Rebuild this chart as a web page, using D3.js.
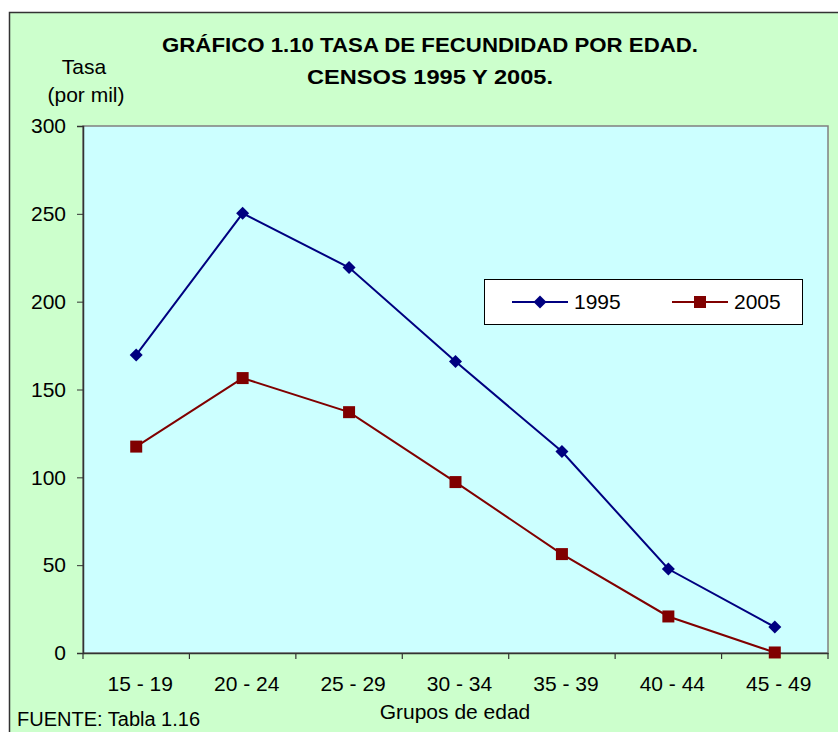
<!DOCTYPE html>
<html><head><meta charset="utf-8">
<script src="https://cdn.jsdelivr.net/npm/d3@7"></script>
<style>body{margin:0;background:#fff}svg{display:block}text{font-family:"Liberation Sans",Arial,sans-serif;fill:#000}</style>
</head><body><svg id="c" width="838" height="732"></svg>
<script>
const categories = ["15 - 19","20 - 24","25 - 29","30 - 34","35 - 39","40 - 44","45 - 49"];
const values1995 = [169.7, 250.3, 219.4, 165.9, 114.7, 47.8, 14.8];
const values2005 = [117.5, 156.5, 137.1, 97.3, 56.3, 20.8, 0.3];
const yTicks = [0, 50, 100, 150, 200, 250, 300];
const seriesNames = ["1995", "2005"];

const svg = d3.select("#c");
const W = 838, H = 732;
const m = {left: 83, right: 828, top: 126, bottom: 653};
const FF = '"Liberation Sans",Arial,sans-serif';

svg.append("rect").attr("x", 9.5).attr("y", 12.5).attr("width", W).attr("height", H)
  .attr("fill", "#CCFFCC").attr("stroke", "#333").attr("stroke-width", 1.5);

const x = d3.scaleBand().domain(categories).range([m.left, m.right]);
const y = d3.scaleLinear().domain([0, 300]).range([m.bottom, m.top]);

svg.append("rect").attr("x", m.left).attr("y", m.top)
  .attr("width", m.right - m.left).attr("height", m.bottom - m.top)
  .attr("fill", "#CCFFFF").attr("stroke", "#808080").attr("stroke-width", 1.5);

// y axis
const ya = svg.append("g").attr("transform", `translate(${m.left},0)`)
  .call(d3.axisLeft(y).tickValues(yTicks).tickSize(6).tickPadding(11));
ya.select(".domain").attr("stroke", "#333").attr("stroke-width", 1.5);
ya.selectAll(".tick line").attr("stroke", "#333");
ya.selectAll("text").attr("font-size", 21).attr("font-family", FF).attr("fill", "#000");

// x axis
const xa = svg.append("g").attr("transform", `translate(0,${m.bottom})`)
  .call(d3.axisBottom(x).tickSize(0).tickPadding(23));
xa.select(".domain").attr("stroke", "#333").attr("stroke-width", 1.5);
xa.selectAll("text").attr("font-size", 21).attr("dx", 4).attr("font-family", FF).attr("fill", "#000");
const bounds = categories.map(c => x(c)).concat([m.right]);
svg.append("g").selectAll("line").data(bounds).join("line")
  .attr("x1", d => d).attr("x2", d => d).attr("y1", m.bottom).attr("y2", m.bottom + 6)
  .attr("stroke", "#333").attr("stroke-width", 1.2);

const cx = c => x(c) + x.bandwidth() / 2;
const line = d3.line().x((d, i) => cx(categories[i])).y(d => y(d));

const diamond = "M0,-6.5L6.5,0L0,6.5L-6.5,0Z";
const square = "M-6,-6H6V6H-6Z";

svg.append("path").datum(values1995).attr("d", line).attr("fill", "none").attr("stroke", "#000080").attr("stroke-width", 2);
svg.append("path").datum(values2005).attr("d", line).attr("fill", "none").attr("stroke", "#800000").attr("stroke-width", 2);
svg.append("g").selectAll("path").data(values1995).join("path")
  .attr("transform", (d, i) => `translate(${cx(categories[i])},${y(d)})`).attr("d", diamond).attr("fill", "#000080");
svg.append("g").selectAll("path").data(values2005).join("path")
  .attr("transform", (d, i) => `translate(${cx(categories[i])},${y(d)})`).attr("d", square).attr("fill", "#800000");

// legend
const lg = svg.append("g");
lg.append("rect").attr("x", 484.5).attr("y", 279.5).attr("width", 318).attr("height", 45)
  .attr("fill", "#fff").attr("stroke", "#000").attr("stroke-width", 1);
const legendItems = [
  {name: seriesNames[0], color: "#000080", sym: diamond, x0: 512},
  {name: seriesNames[1], color: "#800000", sym: square, x0: 672}
];
legendItems.forEach(it => {
  lg.append("line").attr("x1", it.x0).attr("x2", it.x0 + 56).attr("y1", 302).attr("y2", 302)
    .attr("stroke", it.color).attr("stroke-width", 2);
  lg.append("path").attr("transform", `translate(${it.x0 + 28},302)`).attr("d", it.sym).attr("fill", it.color);
  lg.append("text").attr("x", it.x0 + 62).attr("y", 309).attr("font-size", 21).text(it.name);
});

// titles
svg.append("text").attr("x", 430).attr("y", 52).attr("text-anchor", "middle")
  .attr("font-size", 20).attr("font-weight", "bold")
  .attr("textLength", 536).attr("lengthAdjust", "spacingAndGlyphs")
  .text("GRÁFICO 1.10 TASA DE FECUNDIDAD POR EDAD.");
svg.append("text").attr("x", 430).attr("y", 83.5).attr("text-anchor", "middle")
  .attr("font-size", 20).attr("font-weight", "bold")
  .attr("textLength", 246).attr("lengthAdjust", "spacingAndGlyphs")
  .text("CENSOS 1995 Y 2005.");
svg.append("text").attr("x", 84).attr("y", 74).attr("text-anchor", "middle").attr("font-size", 21).text("Tasa");
svg.append("text").attr("x", 86).attr("y", 102).attr("text-anchor", "middle").attr("font-size", 21).text("(por mil)");
svg.append("text").attr("x", 455).attr("y", 719).attr("text-anchor", "middle").attr("font-size", 21).text("Grupos de edad");
svg.append("text").attr("x", 17).attr("y", 726).attr("font-size", 20).text("FUENTE: Tabla 1.16");
</script></body></html>
